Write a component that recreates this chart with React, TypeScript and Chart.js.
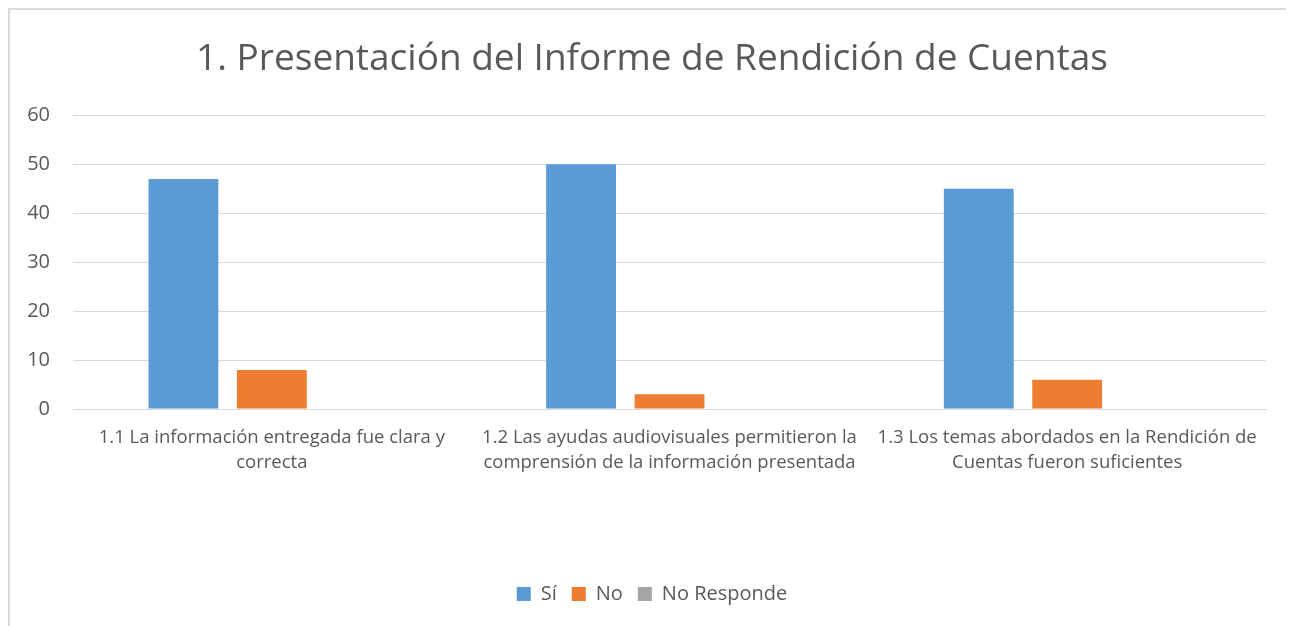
import React, { useEffect, useRef } from "react";
import { Chart, registerables } from "chart.js";

Chart.register(...registerables);

const titleText = "1. Presentación del Informe de Rendición de Cuentas";
const categories: string[][] = [
  ["1.1 La información entregada fue clara y", "correcta"],
  ["1.2 Las ayudas audiovisuales permitieron la", "comprensión de la información presentada"],
  ["1.3 Los temas abordados en la Rendición de", "Cuentas fueron suficientes"],
];
const seriesNames = ["Sí", "No", "No Responde"];
const siValues = [47, 50, 45];
const noValues = [8, 3, 6];
const noRespondeValues = [0, 0, 0];
const seriesColors = ["#5B9BD5", "#ED7D31", "#A5A5A5"];
const yTicks = [0, 10, 20, 30, 40, 50, 60];

const FONT = "'Open Sans', sans-serif";
const TEXT = "#595959";

export default function App() {
  const ref = useRef<HTMLCanvasElement | null>(null);
  useEffect(() => {
    document.documentElement.style.overflow = "hidden";
    document.body.style.overflow = "hidden";
    if (!ref.current) return;
    const values = [siValues, noValues, noRespondeValues];
    const chart = new Chart(ref.current, {
      type: "bar",
      data: {
        labels: categories,
        datasets: seriesNames.map((n, i) => ({
          label: n,
          data: values[i],
          backgroundColor: seriesColors[i],
          borderWidth: 0,
          categoryPercentage: 0.667,
          barPercentage: 0.79,
          yAxisID: "y",
        })),
      },
      options: {
        animation: false,
        responsive: false,
        layout: { padding: { left: 17, right: 17, top: 0, bottom: 4 } },
        plugins: {
          title: {
            display: true,
            text: titleText,
            color: TEXT,
            font: { family: FONT, size: 37, weight: "normal" },
            padding: { top: 27, bottom: 34 },
          },
          legend: {
            position: "bottom",
            labels: {
              color: TEXT,
              font: { family: FONT, size: 20 },
              boxWidth: 14,
              boxHeight: 14,
              padding: 15,
            },
          },
          tooltip: { enabled: false },
        },
        scales: {
          x: {
            grid: { display: false },
            border: { display: true, color: "#d9d9d9" },
            ticks: {
              color: TEXT,
              font: { family: FONT, size: 18.5, lineHeight: 1.35 },
              padding: 8,
              maxRotation: 0,
              autoSkip: false,
            },
            afterFit: (axis: any) => {
              axis.height += 86;
            },
          },
          y: {
            min: 0,
            max: 60,
            afterBuildTicks: (axis: any) => {
              axis.ticks = yTicks.map((v) => ({ value: v }));
            },
            afterFit: (axis: any) => {
              axis.width = 46;
            },
            grid: { color: "#d9d9d9", drawTicks: false },
            border: { display: false },
            ticks: {
              color: TEXT,
              font: { family: FONT, size: 20 },
              padding: 23,
            },
          },
          yRight: {
            type: "linear",
            position: "right",
            display: true,
            min: 0,
            max: 60,
            grid: { display: false, drawTicks: false },
            border: { display: false },
            ticks: { display: false },
            afterFit: (axis: any) => {
              axis.width = 11;
            },
          },
        },
      },
    });
    return () => chart.destroy();
  }, []);
  return (
    <div
      style={{
        width: 1300,
        height: 640,
        borderLeft: "2px solid #d9d9d9",
        borderTop: "2px solid #d9d9d9",
        background: "#fff",
      }}
    >
      <canvas ref={ref} width={1284} height={608} style={{ display: "block" }} />
    </div>
  );
}
